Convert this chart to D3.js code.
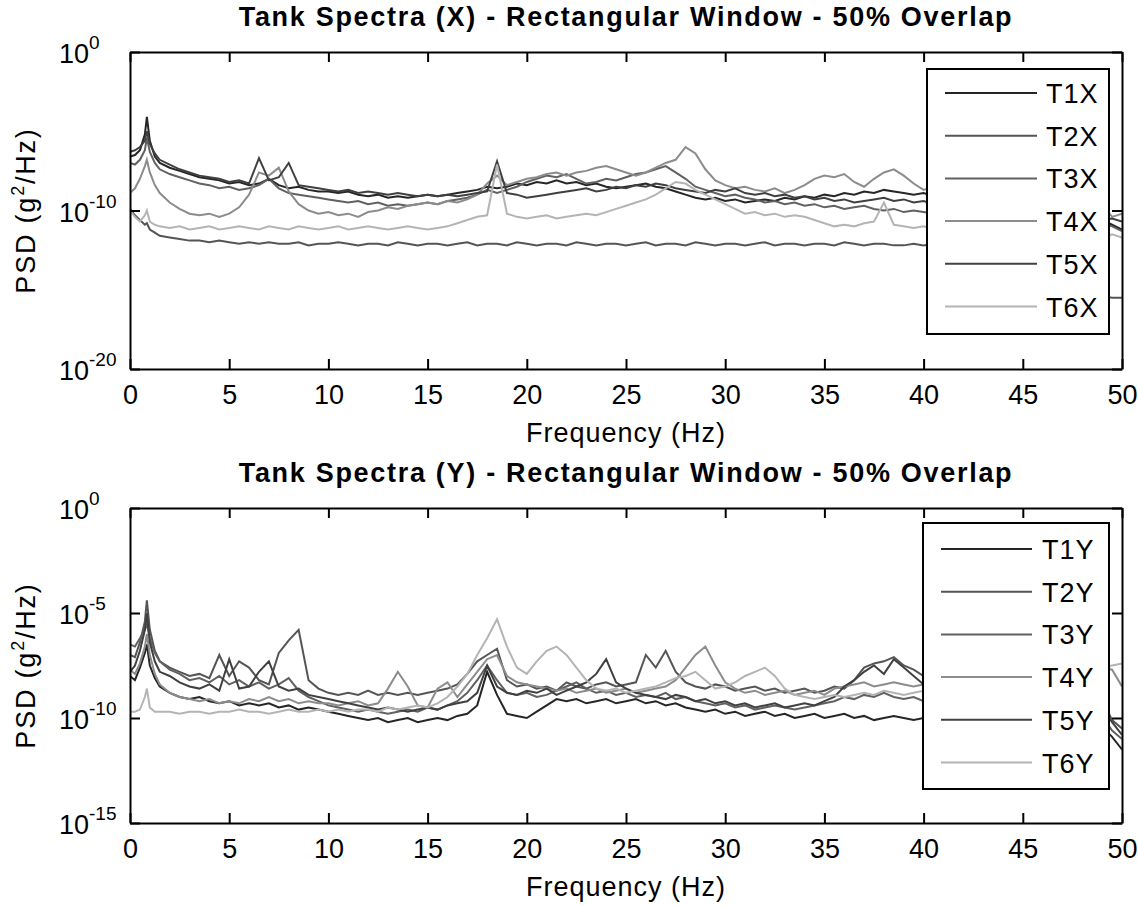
<!DOCTYPE html>
<html><head><meta charset="utf-8">
<script src="https://cdn.jsdelivr.net/npm/d3@7"></script>
<style>
body{margin:0;background:#fff}
svg{display:block}
text{font-family:"Liberation Sans",Arial,Helvetica,sans-serif;fill:#000}
</style>
</head><body>
<svg id="chart" width="1138" height="906"></svg>
<script>
// ---------------- DATA ----------------
const freq = [0,0.25,0.5,0.75,0.85,1,1.25,1.5,
 2,2.5,3,3.5,4,4.5,5,5.5,6,6.5,7,7.5,8,8.5,9,9.5,
 10,10.5,11,11.5,12,12.5,13,13.5,14,14.5,15,15.5,16,16.5,17,17.5,
 18,18.5,19,19.5,20,20.5,21,21.5,22,22.5,23,23.5,24,24.5,25,25.5,
 26,26.5,27,27.5,28,28.5,29,29.5,30,30.5,31,31.5,32,32.5,33,33.5,
 34,34.5,35,35.5,36,36.5,37,37.5,38,38.5,39,39.5,40,40.5,41,41.5,
 42,42.5,43,43.5,44,44.5,45,45.5,46,46.5,47,47.5,48,48.5,49,49.5,50];

// PSD values stored as log10(g^2/Hz)
const seriesNamesX = ["T1X","T2X","T3X","T4X","T5X","T6X"];
const T1X = [-6.6,-6.5,-6.2,-5.2,-4.1,-5.6,-6.6,-7.0,
 -7.3,-7.5,-7.7,-7.9,-8.0,-8.1,-8.3,-8.2,-8.4,-8.3,-8.0,-8.4,-8.6,-8.5,-8.7,-8.8,
 -8.8,-8.9,-8.8,-9.0,-9.1,-9.0,-9.2,-9.1,-9.2,-9.1,-9.0,-9.1,-9.0,-8.9,-8.8,-8.7,
 -8.5,-8.6,-8.5,-8.3,-8.4,-8.2,-8.3,-8.1,-8.3,-8.2,-8.4,-8.3,-8.5,-8.6,-8.5,-8.4,
 -8.3,-8.5,-8.6,-8.8,-9.0,-9.2,-9.3,-9.2,-9.4,-9.3,-9.5,-9.4,-9.3,-9.4,-9.2,-9.3,
 -9.1,-9.2,-9.0,-9.1,-8.9,-9.0,-8.8,-8.9,-8.7,-8.8,-8.9,-9.0,-8.9,-9.1,-9.0,-9.2,
 -9.1,-9.2,-9.3,-9.2,-9.4,-9.3,-9.5,-9.4,-9.6,-9.5,-9.6,-9.7,-9.6,-9.8,-10.6,-10.9,-11.2];
const T2X = [-9.9,-10.3,-10.6,-10.9,-10.8,-11.2,-11.4,-11.6,
 -11.7,-11.8,-11.9,-11.9,-12.0,-11.9,-12.0,-12.1,-12.0,-12.1,-12.0,-12.1,-12.1,-12.0,-12.2,-12.1,
 -12.1,-12.0,-12.1,-12.2,-12.1,-12.1,-12.2,-12.0,-12.1,-12.2,-12.1,-12.1,-12.2,-12.1,-12.0,-12.2,
 -12.1,-12.1,-12.2,-12.0,-12.1,-12.2,-12.1,-12.1,-12.2,-12.0,-12.1,-12.2,-12.1,-12.1,-12.2,-12.1,
 -12.0,-12.2,-12.1,-12.1,-12.2,-12.0,-12.1,-12.2,-12.1,-12.1,-12.2,-12.1,-12.0,-12.2,-12.1,-12.1,
 -12.2,-12.1,-12.1,-12.2,-12.0,-12.1,-12.2,-12.1,-12.1,-12.2,-12.2,-12.1,-12.2,-12.1,-12.2,-12.2,
 -12.1,-12.2,-12.2,-12.1,-12.2,-12.2,-12.1,-12.2,-12.2,-12.1,-12.2,-12.2,-12.3,-13.8,-15.4,-15.5,-15.5];
const T3X = [-7.0,-7.1,-6.8,-6.2,-5.4,-6.3,-7.0,-7.4,
 -7.7,-7.9,-8.1,-8.3,-8.4,-8.6,-8.5,-8.7,-8.6,-8.4,-8.0,-8.6,-8.9,-9.0,-9.1,-9.2,
 -9.3,-9.4,-9.5,-9.4,-9.6,-9.5,-9.7,-9.6,-9.7,-9.6,-9.5,-9.6,-9.4,-9.3,-9.2,-9.0,
 -8.7,-8.9,-8.7,-8.5,-8.2,-8.0,-7.8,-7.9,-7.7,-8.0,-8.3,-8.2,-8.0,-8.1,-7.9,-7.7,
 -7.6,-7.4,-7.2,-7.6,-8.0,-8.5,-8.7,-8.9,-9.1,-9.0,-9.2,-9.3,-9.5,-9.4,-9.6,-9.5,
 -9.7,-9.6,-9.8,-9.7,-9.9,-9.8,-9.7,-9.9,-10.0,-9.9,-10.1,-10.0,-10.1,-10.2,-10.1,-10.2,
 -10.1,-10.3,-10.2,-10.3,-10.4,-10.3,-10.4,-10.5,-10.4,-10.5,-10.6,-10.5,-10.6,-10.7,-10.8,-11.0,-11.3];
const T4X = [-8.9,-8.6,-8.0,-7.2,-6.8,-7.6,-8.4,-8.9,
 -9.5,-9.9,-10.2,-10.3,-10.2,-10.4,-10.2,-9.8,-9.0,-7.6,-7.8,-7.3,-8.8,-9.6,-10.0,-10.2,
 -10.1,-10.3,-10.2,-10.4,-10.1,-10.0,-9.8,-9.9,-9.7,-9.6,-9.5,-9.6,-9.4,-9.5,-9.3,-9.0,
 -8.3,-7.8,-8.4,-8.2,-8.0,-7.9,-7.7,-7.6,-7.8,-7.6,-7.5,-7.3,-7.2,-7.4,-7.6,-7.8,
 -7.6,-7.3,-7.0,-6.8,-6.0,-6.4,-7.4,-8.1,-8.4,-8.6,-8.5,-8.7,-8.8,-8.6,-8.9,-8.7,
 -8.4,-8.0,-7.8,-7.9,-7.7,-8.2,-8.5,-8.0,-7.6,-7.4,-7.8,-8.3,-8.7,-8.5,-8.6,-8.7,
 -8.8,-8.7,-8.9,-9.0,-8.9,-9.1,-9.0,-9.2,-9.1,-9.3,-9.2,-9.4,-9.3,-9.5,-9.6,-10.4,-10.2];
const T5X = [-6.3,-6.2,-6.0,-5.6,-5.0,-5.8,-6.4,-6.8,
 -7.1,-7.4,-7.6,-7.8,-7.9,-8.0,-8.2,-8.1,-8.3,-6.7,-8.1,-7.9,-7.0,-8.4,-8.5,-8.6,
 -8.7,-8.8,-8.7,-8.9,-8.8,-8.9,-9.0,-8.9,-9.0,-9.1,-9.0,-9.1,-9.0,-9.1,-9.0,-8.9,
 -8.8,-6.9,-8.9,-9.0,-9.2,-9.1,-9.0,-8.9,-8.8,-8.7,-8.6,-8.8,-8.7,-8.5,-8.6,-8.4,
 -8.5,-8.3,-8.4,-8.6,-8.7,-8.8,-8.9,-8.7,-8.8,-8.6,-8.9,-9.0,-8.9,-9.1,-9.0,-9.2,
 -9.1,-9.3,-9.2,-9.4,-9.3,-9.5,-9.4,-9.3,-9.2,-9.4,-9.3,-9.5,-9.4,-9.6,-9.5,-9.7,
 -9.6,-9.8,-9.7,-9.9,-9.8,-10.0,-9.9,-10.1,-10.0,-10.2,-10.1,-10.3,-10.2,-10.4,-10.6,-10.5,-10.7];
const T6X = [-10.0,-10.4,-10.7,-10.3,-10.0,-10.7,-10.9,-11.0,
 -11.1,-11.0,-11.2,-11.1,-11.0,-11.2,-11.1,-11.0,-11.1,-11.2,-11.0,-11.1,-11.2,-11.0,-11.1,-11.2,
 -11.1,-11.0,-11.2,-11.1,-11.0,-11.1,-11.2,-11.1,-11.0,-11.1,-11.2,-11.1,-11.0,-10.8,-10.6,-10.4,
 -10.3,-7.1,-10.2,-10.4,-10.5,-10.4,-10.3,-10.5,-10.4,-10.3,-10.2,-10.3,-10.1,-9.9,-9.7,-9.5,
 -9.3,-9.0,-8.6,-8.2,-8.3,-8.7,-9.0,-9.3,-9.6,-9.9,-10.2,-10.1,-10.3,-10.2,-10.4,-10.3,
 -10.4,-10.6,-10.8,-11.0,-10.9,-11.0,-10.8,-10.7,-9.5,-10.9,-11.0,-11.1,-11.0,-11.2,-11.1,-11.2,
 -11.1,-11.3,-11.2,-11.4,-11.3,-11.5,-11.4,-11.6,-11.5,-11.7,-11.6,-11.8,-11.7,-11.9,-11.8,-11.5,-11.7];

const seriesNamesY = ["T1Y","T2Y","T3Y","T4Y","T5Y","T6Y"];
const T1Y = [-8.0,-8.2,-7.6,-6.9,-6.5,-7.5,-8.1,-8.5,
 -8.8,-9.0,-9.1,-9.0,-9.2,-9.3,-9.2,-9.4,-9.3,-9.4,-9.3,-9.5,-9.4,-9.6,-9.5,-9.6,
 -9.7,-9.8,-9.9,-10.0,-10.1,-10.0,-10.2,-10.1,-10.0,-10.2,-10.1,-10.0,-10.1,-9.9,-9.8,-9.4,
 -7.8,-8.9,-9.8,-9.9,-10.0,-9.7,-9.4,-9.1,-9.2,-9.1,-9.3,-9.2,-9.1,-9.3,-9.2,-9.1,
 -9.3,-9.2,-9.4,-9.3,-9.5,-9.6,-9.7,-9.6,-9.8,-9.7,-9.9,-9.8,-9.7,-9.9,-9.8,-10.0,
 -9.9,-9.8,-10.0,-9.9,-9.8,-10.0,-9.9,-10.1,-10.0,-9.9,-10.0,-10.1,-10.0,-10.2,-10.1,-10.0,
 -10.1,-10.2,-10.1,-10.3,-10.2,-10.1,-10.3,-10.2,-10.4,-10.3,-10.2,-10.4,-10.3,-10.5,-10.4,-10.9,-11.5];
const T2Y = [-7.0,-7.1,-6.4,-5.4,-4.4,-5.8,-6.8,-7.3,
 -7.6,-7.8,-8.0,-7.9,-8.1,-7.0,-8.0,-7.3,-7.6,-8.2,-8.4,-6.9,-6.3,-5.8,-8.2,-8.6,
 -8.8,-8.9,-8.8,-8.9,-8.7,-8.9,-8.8,-8.9,-8.8,-8.9,-8.8,-8.7,-8.6,-8.4,-7.9,-7.3,
 -7.0,-6.7,-8.2,-8.5,-8.4,-8.6,-8.5,-8.7,-8.3,-8.5,-8.6,-8.4,-8.3,-8.5,-8.4,-8.3,
 -7.0,-7.6,-6.8,-7.8,-8.3,-8.5,-8.6,-8.4,-8.5,-8.7,-8.6,-8.5,-8.7,-8.6,-8.8,-8.7,
 -8.6,-8.8,-8.7,-8.5,-8.6,-8.2,-7.6,-7.4,-7.3,-7.1,-7.5,-7.7,-8.0,-8.2,-8.3,-8.4,
 -8.5,-8.6,-8.5,-8.7,-8.6,-8.8,-8.7,-8.9,-8.8,-9.0,-8.9,-9.1,-9.0,-9.2,-9.1,-10.1,-10.5];
const T3Y = [-6.5,-6.6,-6.2,-5.8,-5.5,-6.2,-6.9,-7.3,
 -7.7,-7.9,-8.2,-8.1,-8.3,-8.0,-8.4,-8.2,-8.5,-8.3,-8.6,-8.4,-8.1,-8.7,-9.0,-9.2,
 -9.4,-9.5,-9.6,-9.7,-9.6,-9.7,-9.8,-9.7,-9.6,-9.7,-9.5,-9.6,-9.4,-9.2,-8.8,-8.2,
 -7.5,-8.2,-8.8,-8.9,-8.8,-9.0,-8.9,-8.7,-8.5,-8.3,-8.6,-8.8,-8.7,-8.9,-8.8,-9.0,
 -8.9,-9.0,-8.8,-9.1,-9.0,-9.2,-9.3,-9.4,-9.3,-9.5,-9.4,-9.6,-9.5,-9.4,-9.5,-9.6,
 -9.5,-9.4,-9.3,-9.2,-9.0,-9.1,-8.9,-9.0,-8.8,-9.0,-9.1,-9.0,-9.2,-9.1,-9.3,-9.2,
 -9.3,-9.2,-9.4,-9.3,-9.5,-9.4,-9.6,-9.5,-9.7,-9.6,-9.8,-9.7,-9.9,-9.8,-9.9,-10.6,-11.0];
const T4Y = [-7.7,-7.9,-7.4,-6.6,-6.0,-7.0,-7.9,-8.4,
 -8.8,-9.0,-9.1,-9.2,-9.1,-9.3,-9.2,-9.3,-9.1,-9.2,-9.0,-9.2,-9.1,-9.3,-9.2,-9.3,
 -9.3,-9.4,-9.3,-9.2,-9.4,-9.3,-8.6,-7.8,-8.5,-9.4,-9.5,-8.6,-8.3,-9.0,-8.4,-7.8,
 -7.2,-7.0,-8.0,-8.3,-8.4,-8.5,-8.6,-8.7,-8.6,-8.8,-8.7,-8.6,-8.8,-8.7,-8.6,-8.8,
 -8.7,-8.6,-8.5,-8.2,-7.6,-7.0,-6.6,-7.5,-8.3,-8.6,-8.8,-8.7,-8.9,-8.8,-8.7,-8.9,
 -8.8,-8.7,-8.9,-8.6,-8.5,-8.4,-8.3,-8.5,-8.4,-8.3,-8.4,-8.5,-8.4,-8.6,-8.5,-8.4,
 -8.3,-8.4,-8.2,-8.3,-8.1,-8.2,-8.0,-8.1,-7.9,-8.0,-7.8,-7.9,-7.7,-7.8,-7.6,-7.7,-8.5];
const T5Y = [-7.8,-7.5,-6.8,-5.8,-5.0,-6.4,-7.3,-7.8,
 -8.0,-8.3,-8.5,-8.6,-8.4,-8.7,-7.2,-8.6,-8.5,-7.8,-7.3,-8.5,-8.7,-8.6,-8.9,-9.0,
 -9.1,-9.2,-9.3,-9.4,-9.5,-9.6,-9.5,-9.6,-9.7,-9.6,-9.5,-9.6,-9.4,-9.3,-9.2,-8.8,
 -7.5,-8.5,-8.8,-8.9,-8.7,-8.8,-8.6,-8.9,-8.7,-8.5,-8.3,-7.9,-7.2,-8.3,-8.6,-8.8,
 -8.9,-9.0,-9.1,-8.9,-9.0,-9.2,-9.1,-9.3,-9.2,-9.4,-9.3,-9.5,-9.4,-9.3,-9.5,-9.4,
 -9.3,-9.4,-9.2,-9.0,-8.5,-8.2,-7.8,-7.5,-7.9,-7.2,-7.6,-8.0,-8.4,-8.6,-8.7,-8.8,
 -8.9,-9.0,-8.9,-9.1,-9.0,-9.2,-9.1,-9.3,-9.2,-9.4,-9.3,-9.5,-9.4,-9.6,-9.5,-10.2,-10.8];
const T6Y = [-9.7,-9.7,-9.6,-9.0,-8.6,-9.5,-9.7,-9.7,
 -9.7,-9.8,-9.7,-9.7,-9.8,-9.7,-9.7,-9.6,-9.7,-9.7,-9.8,-9.7,-9.6,-9.7,-9.7,-9.6,
 -9.7,-9.6,-9.7,-9.6,-9.6,-9.7,-9.5,-9.6,-9.5,-9.4,-9.5,-9.3,-9.0,-8.5,-7.9,-7.0,
 -6.2,-5.3,-6.6,-7.6,-7.9,-7.3,-6.8,-6.6,-7.0,-7.6,-8.2,-8.6,-8.7,-8.6,-8.8,-8.7,
 -8.6,-8.5,-8.3,-8.1,-8.0,-7.8,-8.2,-8.6,-8.5,-8.3,-8.0,-7.8,-7.6,-8.0,-8.6,-8.9,
 -9.0,-9.1,-9.0,-8.9,-9.0,-8.9,-8.8,-8.9,-8.7,-8.8,-8.9,-8.8,-8.7,-8.8,-8.6,-8.7,
 -8.5,-8.6,-8.4,-8.5,-8.3,-8.4,-8.2,-8.3,-8.1,-8.2,-8.0,-7.9,-7.8,-7.7,-7.6,-7.5,-7.4];

const xTicks = [0,5,10,15,20,25,30,35,40,45,50];
const xTickLabels = ["0","5","10","15","20","25","30","35","40","45","50"];
const yTickExpTop = [0,-10,-20];
const yTickExpBottom = [0,-5,-10,-15];
const titleTop = "Tank Spectra (X) - Rectangular Window - 50% Overlap";
const titleBottom = "Tank Spectra (Y) - Rectangular Window - 50% Overlap";
const xLabel = "Frequency (Hz)";
const seriesColors = ["#262626","#555555","#616161","#8c8c8c","#404040","#b4b4b4"];

// ---------------- DRAW ----------------
const svg = d3.select("#chart");
svg.append("rect").attr("width",1138).attr("height",906).attr("fill","#fff");

function panel(cfg) {
  const L = 130, R = 1122, T = cfg.top, B = cfg.bottom;
  const x = d3.scaleLinear().domain([0,50]).range([L,R]);
  const y = d3.scaleLog().domain([Math.pow(10,cfg.minExp), 1]).range([B,T]);
  const g = svg.append("g");
  const clipId = "clip" + cfg.id;
  g.append("clipPath").attr("id",clipId).append("rect")
    .attr("x",L).attr("y",T).attr("width",R-L).attr("height",B-T);

  const line = d3.line().x((d,i)=>x(freq[i])).y(d=>y(Math.pow(10,d)));
  const dg = g.append("g").attr("clip-path",`url(#${clipId})`);
  cfg.series.forEach((s,k)=>{
    dg.append("path").datum(s).attr("d",line)
      .attr("fill","none").attr("stroke",seriesColors[k])
      .attr("stroke-width",2).attr("stroke-linejoin","miter");
  });

  // axes (ticks inside, box)
  const yTickVals = cfg.yExp.map(e=>Math.pow(10,e));
  const ax = g.append("g").attr("class","axes");
  ax.append("g").attr("transform",`translate(0,${B})`)
    .call(d3.axisBottom(x).tickValues(xTicks).tickSizeInner(-10).tickSizeOuter(0).tickPadding(16)
      .tickFormat((d,i)=>xTickLabels[i]));
  ax.append("g").attr("transform",`translate(0,${T})`)
    .call(d3.axisTop(x).tickValues(xTicks).tickSizeInner(-10).tickSizeOuter(0).tickFormat(""));
  ax.append("g").attr("transform",`translate(${L},0)`)
    .call(d3.axisLeft(y).tickValues(yTickVals).tickSizeInner(-10).tickSizeOuter(0).tickFormat(""));
  ax.append("g").attr("transform",`translate(${R},0)`)
    .call(d3.axisRight(y).tickValues(yTickVals).tickSizeInner(-10).tickSizeOuter(0).tickFormat(""));
  ax.selectAll("path.domain").attr("stroke","#000").attr("stroke-width",2);
  ax.selectAll(".tick line").attr("stroke","#000").attr("stroke-width",2);
  ax.selectAll(".tick text").attr("font-size",27).attr("font-family","Liberation Sans, Arial, sans-serif").attr("fill","#000");

  // y tick labels with superscript exponents
  cfg.yExp.forEach(e=>{
    const ty = y(Math.pow(10,e));
    const t = g.append("text").attr("x",59).attr("y",ty+11).attr("font-size",27);
    t.append("tspan").text("10");
    t.append("tspan").attr("dy",-14).attr("font-size",19).text(String(e));
  });

  // title
  g.append("text").attr("x",(L+R)/2).attr("y",T-26).attr("text-anchor","middle")
    .attr("font-size",27).attr("letter-spacing",1.7).attr("font-weight","bold").text(cfg.title);
  // x label
  g.append("text").attr("x",(L+R)/2).attr("y",B+73).attr("text-anchor","middle")
    .attr("font-size",27).attr("letter-spacing",1).text(xLabel);
  // y label
  const yl = g.append("text").attr("transform",`translate(35,${(T+B)/2}) rotate(-90)`)
    .attr("text-anchor","middle").attr("font-size",27).attr("letter-spacing",1.8);
  yl.append("tspan").text("PSD (g");
  yl.append("tspan").attr("dy",-11).attr("font-size",18).text("2");
  yl.append("tspan").attr("dy",11).text("/Hz)");

  // legend
  const lg = g.append("g");
  lg.append("rect").attr("x",cfg.legend.x0).attr("y",cfg.legend.y0)
    .attr("width",1109-cfg.legend.x0).attr("height",cfg.legend.y1-cfg.legend.y0)
    .attr("fill","#fff").attr("stroke","#000").attr("stroke-width",2);
  cfg.names.forEach((n,k)=>{
    const ry = cfg.legend.firstRow + k*42.7;
    lg.append("line").attr("x1",cfg.legend.lx1).attr("x2",cfg.legend.lx2)
      .attr("y1",ry).attr("y2",ry).attr("stroke",seriesColors[k]).attr("stroke-width",2);
    lg.append("text").attr("x",cfg.legend.tx).attr("y",ry+10).attr("font-size",27)
      .attr("letter-spacing",1).text(n);
  });
}

panel({id:"top", top:52, bottom:369, minExp:-20, yExp:yTickExpTop, title:titleTop,
  series:[T1X,T2X,T3X,T4X,T5X,T6X], names:seriesNamesX,
  legend:{x0:927,y0:69,y1:334,firstRow:93,lx1:945,lx2:1037,tx:1046}});
panel({id:"bot", top:508, bottom:823, minExp:-15, yExp:yTickExpBottom, title:titleBottom,
  series:[T1Y,T2Y,T3Y,T4Y,T5Y,T6Y], names:seriesNamesY,
  legend:{x0:923,y0:523,y1:789,firstRow:549,lx1:941,lx2:1032,tx:1042}});
</script>
</body></html>
